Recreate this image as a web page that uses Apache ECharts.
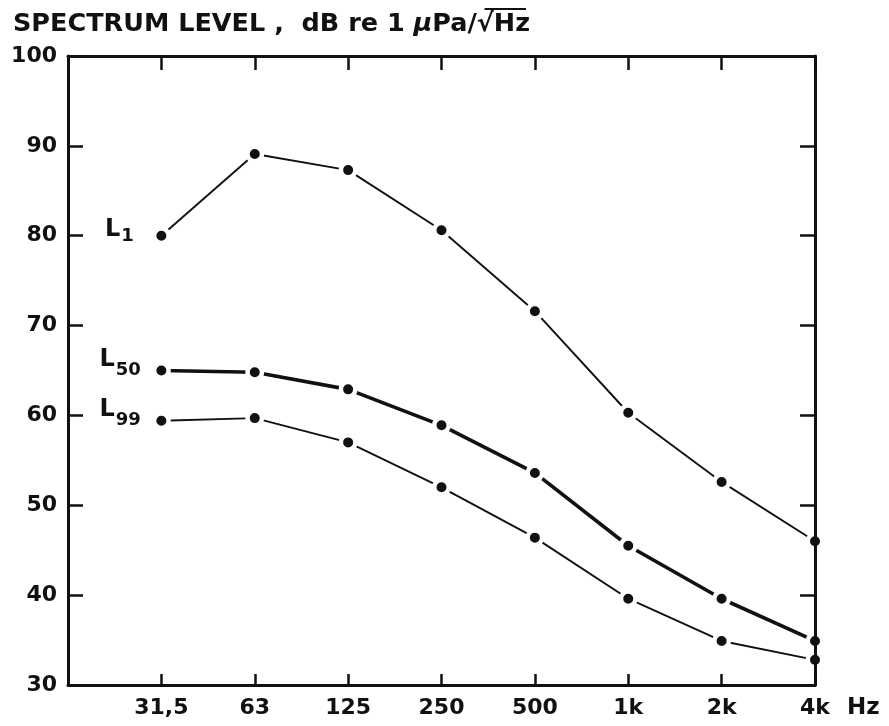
<!DOCTYPE html>
<html><head><meta charset="utf-8">
<script src="https://cdn.jsdelivr.net/npm/echarts@6/dist/echarts.min.js"></script>
<style>html,body{margin:0;padding:0;background:#fff}#c{width:889px;height:726px}</style>
</head><body><div id="c"></div>
<script>
// ---- data ----
const bands = ['31,5', '63', '125', '250', '500', '1k', '2k', '4k'];
const l1  = [80.0, 89.1, 87.3, 80.6, 71.6, 60.3, 52.6, 46.0];
const l50 = [65.0, 64.8, 62.9, 58.9, 53.6, 45.5, 39.6, 34.9];
const l99 = [59.4, 59.7, 57.0, 52.0, 46.4, 39.6, 34.9, 32.8];
const yMin = 30, yMax = 100, yStep = 10;
const titlePrefix = 'SPECTRUM LEVEL ,  dB re 1 ';
const xUnit = 'Hz';

// ---- styling ----
const INK = '#111';
const FONT = 'DejaVu Sans';
const TITLE_SIZE = 25.5;
const TITLE_LEFT = 8;
const categories = [''].concat(bands);

function series(name, vals, width, sub, dist, offY, upPad, downPad) {
  const data = [null].concat(vals).map((v, i) => {
    if (i !== 1) return v;
    return {
      value: v,
      label: {
        show: true, position: 'left', distance: dist, offset: [0, offY],
        formatter: '{m|L}{s|' + sub + '}',
        rich: {
          m: { fontSize: 24, lineHeight: 24, padding: [0, 0, upPad, 0], color: INK, fontFamily: FONT, fontWeight: 'bold' },
          s: { fontSize: 18, lineHeight: 18, padding: [downPad, 0, 0, 1], color: INK, fontFamily: FONT, fontWeight: 'bold' }
        }
      }
    };
  });
  return {
    type: 'line', name, data,
    xAxisIndex: 0, yAxisIndex: 0,
    symbol: 'circle', symbolSize: 14.5,
    itemStyle: { color: INK, borderColor: '#fff', borderWidth: 4.5 },
    lineStyle: { color: INK, width: width },
    z: 2, silent: true
  };
}

const axisLine = { show: true, lineStyle: { color: INK, width: 3 } };
const tickStyle = { color: INK, width: 2.5 };
const labelStyle = { color: INK, fontSize: 22, fontWeight: 'bold', fontFamily: FONT };

const chart = echarts.init(document.getElementById('c'), null, { renderer: 'canvas' });
chart.setOption({
  animation: false,
  backgroundColor: '#fff',
  title: {
    left: TITLE_LEFT, top: 6,
    text: titlePrefix + '{mu|μ}Pa/√' + xUnit,
    textStyle: {
      color: INK, fontSize: TITLE_SIZE, fontWeight: 'bold', fontFamily: FONT,
      rich: { mu: { fontStyle: 'italic', fontSize: TITLE_SIZE, fontWeight: 'bold', fontFamily: FONT, color: INK } }
    }
  },
  grid: { left: 68, right: 74, top: 56, bottom: 41, containLabel: false, outerBoundsMode: 'none' },
  xAxis: [
    {
      type: 'category', data: categories, boundaryGap: false, position: 'bottom', z: 10,
      axisLine, axisTick: { show: true, inside: true, length: 11, interval: 0, lineStyle: tickStyle },
      axisLabel: Object.assign({ margin: 12, interval: 0 }, labelStyle),
      splitLine: { show: false },
      name: xUnit, nameLocation: 'end', nameGap: 32,
      nameTextStyle: Object.assign({ verticalAlign: 'top', padding: [12, 0, 0, 0] }, labelStyle, { fontSize: 23 })
    },
    {
      type: 'category', data: categories, boundaryGap: false, position: 'top', z: 10,
      axisLine, axisTick: { show: true, inside: true, length: 14, interval: 0, lineStyle: tickStyle },
      axisLabel: { show: false }, splitLine: { show: false }
    }
  ],
  yAxis: [
    {
      type: 'value', min: yMin, max: yMax, interval: yStep, position: 'left', z: 10,
      axisLine, axisTick: { show: true, inside: true, length: 15, lineStyle: tickStyle },
      axisLabel: Object.assign({ margin: 11 }, labelStyle),
      splitLine: { show: false }
    },
    {
      type: 'value', min: yMin, max: yMax, interval: yStep, position: 'right', z: 10,
      axisLine, axisTick: { show: true, inside: true, length: 15, lineStyle: tickStyle },
      axisLabel: { show: false }, splitLine: { show: false }
    }
  ],
  series: [
    series('L1', l1, 1.9, '1', 18, -3, 6, 8),
    series('L50', l50, 3.6, '50', 11, -6, 10, 12),
    series('L99', l99, 1.9, '99', 11, -6, 10, 12)
  ]
});

// overline of the square root over "Hz" in the title
(function () {
  const ctx = document.createElement('canvas').getContext('2d');
  const f = 'bold ' + TITLE_SIZE + 'px "' + FONT + '"';
  const fi = 'italic bold ' + TITLE_SIZE + 'px "' + FONT + '"';
  ctx.font = f;
  const wPre = ctx.measureText(titlePrefix).width;
  ctx.font = fi;
  const wMu = ctx.measureText('μ').width;
  ctx.font = f;
  const wPa = ctx.measureText('Pa/').width;
  const wRoot = ctx.measureText('√').width;
  const wHz = ctx.measureText(xUnit).width;
  const x0 = TITLE_LEFT + wPre + wMu + wPa + wRoot * 0.75;
  const x1 = TITLE_LEFT + wPre + wMu + wPa + wRoot + wHz + 1;
  chart.setOption({
    graphic: [{
      type: 'line', silent: true,
      shape: { x1: x0, y1: 9, x2: x1, y2: 9 },
      style: { stroke: INK, lineWidth: 2 }
    }]
  });
})();
</script>
</body></html>
